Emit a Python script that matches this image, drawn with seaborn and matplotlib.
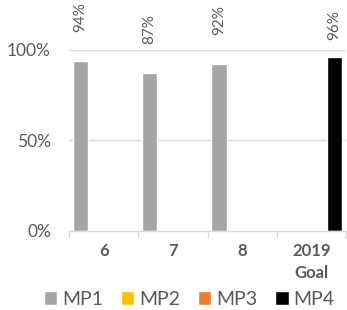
import numpy as np
import pandas as pd
import matplotlib
matplotlib.use("Agg")
import matplotlib.pyplot as plt
from matplotlib.patches import Patch
import seaborn as sns

CATEGORIES = ["6", "7", "8", "2019\nGoal"]
SERIES     = ["MP1", "MP2", "MP3", "MP4"]
COLORS     = ["#A5A5A5", "#FFC000", "#ED7D31", "#000000"]
MP1 = [0.94, 0.87, 0.92, np.nan]
MP2 = [np.nan, np.nan, np.nan, np.nan]
MP3 = [np.nan, np.nan, np.nan, np.nan]
MP4 = [np.nan, np.nan, np.nan, 0.96]
YTICKS = [0, 0.5, 1.0]
YLABELS = ["0%", "50%", "100%"]

TEXT = "#595959"

sns.set_style("white")
plt.rcParams["font.family"] = ["Lato", "DejaVu Sans"]

rows = []
for name, vals in zip(SERIES, [MP1, MP2, MP3, MP4]):
    for cat, v in zip(CATEGORIES, vals):
        rows.append({"cat": cat, "series": name, "value": v})
df = pd.DataFrame(rows)

fig = plt.figure(figsize=(3.47, 3.10), dpi=100)
ax = fig.add_axes([0.199, 0.255, 0.798, 0.584])

sns.barplot(data=df, x="cat", y="value", hue="series", order=CATEGORIES,
            hue_order=SERIES, palette=COLORS, width=0.9, saturation=1,
            legend=False, ax=ax, errorbar=None)

# value labels above bars; the tallest ones sit a bit lower so they stay inside
for cont in ax.containers:
    for bar in cont:
        h = bar.get_height()
        if np.isnan(h) or h == 0:
            continue
        pad = 21 if h < 0.95 else 12.5
        ax.annotate(f"{h:.0%}", (bar.get_x() + bar.get_width() / 2, h),
                    xytext=(0, pad), textcoords="offset points",
                    rotation=90, ha="center", va="bottom", fontsize=11,
                    color=TEXT, annotation_clip=False)

ax.set_ylim(0, 1.0)
ax.set_xlim(-0.5, 3.5)
ax.set_yticks(YTICKS)
ax.set_yticklabels(YLABELS, fontsize=12.5, color=TEXT)
ax.set_xticks(range(len(CATEGORIES)))
ax.set_xticklabels(CATEGORIES, fontsize=12, fontweight="bold", color=TEXT,
                   linespacing=1.45, va="top")
ax.set_xticks(np.arange(-0.5, 4.0, 1.0), minor=True)
ax.tick_params(axis="x", which="major", length=0, pad=9)
ax.tick_params(axis="x", which="minor", length=5, color="#D9D9D9", width=1,
               direction="out", bottom=True)
ax.tick_params(axis="y", length=0, pad=13)
ax.set_xlabel("")
ax.set_ylabel("")

for y in [0.5, 1.0]:
    ax.axhline(y, color="#D9D9D9", lw=1, zorder=0)
for s in ["top", "right", "left"]:
    ax.spines[s].set_visible(False)
ax.spines["bottom"].set_color("#D9D9D9")
ax.spines["bottom"].set_linewidth(1)

handles = [Patch(facecolor=c, label=s) for s, c in zip(SERIES, COLORS)]
fig.legend(handles=handles, loc="center", bbox_to_anchor=(0.545, 0.035), ncol=4,
           frameon=False, fontsize=14, labelcolor=TEXT, handlelength=0.7,
           handleheight=0.7, handletextpad=0.25, columnspacing=0.9)

fig.savefig("out.png", dpi=100)
